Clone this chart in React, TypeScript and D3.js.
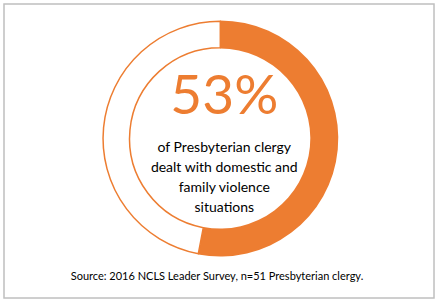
import React from "react";
import * as d3 from "d3";

const categories = ["Dealt with DFV situations", "Did not"];
const values = [53, 47];
const headline = "53%";
const bodyLines = ["of Presbyterian clergy", "dealt with domestic and", "family violence", "situations"];
const sourceText = "Source: 2016 NCLS Leader Survey, n=51 Presbyterian clergy.";

const W = 439;
const H = 303;
const ORANGE = "#ED7D31";
const FONT = "Lato, 'Open Sans', sans-serif";

export default function App() {
  const cx = 220.3;
  const cy = 138.5;
  const outerR = 118;
  const innerR = 90;
  const pie = d3.pie<number>().sort(null).value((d) => d);
  const arcs = pie(values);
  const arc = d3.arc<d3.PieArcDatum<number>>().innerRadius(innerR).outerRadius(outerR);
  const outlineArc = d3
    .arc<d3.PieArcDatum<number>>()
    .innerRadius(innerR + 0.75)
    .outerRadius(outerR - 0.75);

  return (
    <svg
      width={W}
      height={H}
      style={{ position: "fixed", left: 0, top: 0, background: "#fff" }}
    >
      <rect x={4} y={4} width={430} height={294} fill="#fff" stroke="#bfbfbf" strokeWidth={1.5} />
      <g transform={`translate(${cx},${cy})`}>
        {arcs.map((a, i) =>
          i === 0 ? (
            <path key={categories[i]} d={arc(a) || ""} fill={ORANGE} />
          ) : (
            <path
              key={categories[i]}
              d={outlineArc(a) || ""}
              fill="#fff"
              stroke={ORANGE}
              strokeWidth={1.5}
            />
          )
        )}
      </g>
      <text
        x={cx + 4}
        y={114}
        textAnchor="middle"
        fill={ORANGE}
        fontFamily={FONT}
        fontSize={55}
      >
        {headline}
      </text>
      {bodyLines.map((line, i) => (
        <text
          key={line}
          x={cx + 4}
          y={152 + i * 20}
          textAnchor="middle"
          fill="#000"
          fontFamily={FONT}
          fontSize={14}
        >
          {line}
        </text>
      ))}
      <text x={217} y={280} textAnchor="middle" fill="#000" fontFamily={FONT} fontSize={11}>
        {sourceText}
      </text>
    </svg>
  );
}
